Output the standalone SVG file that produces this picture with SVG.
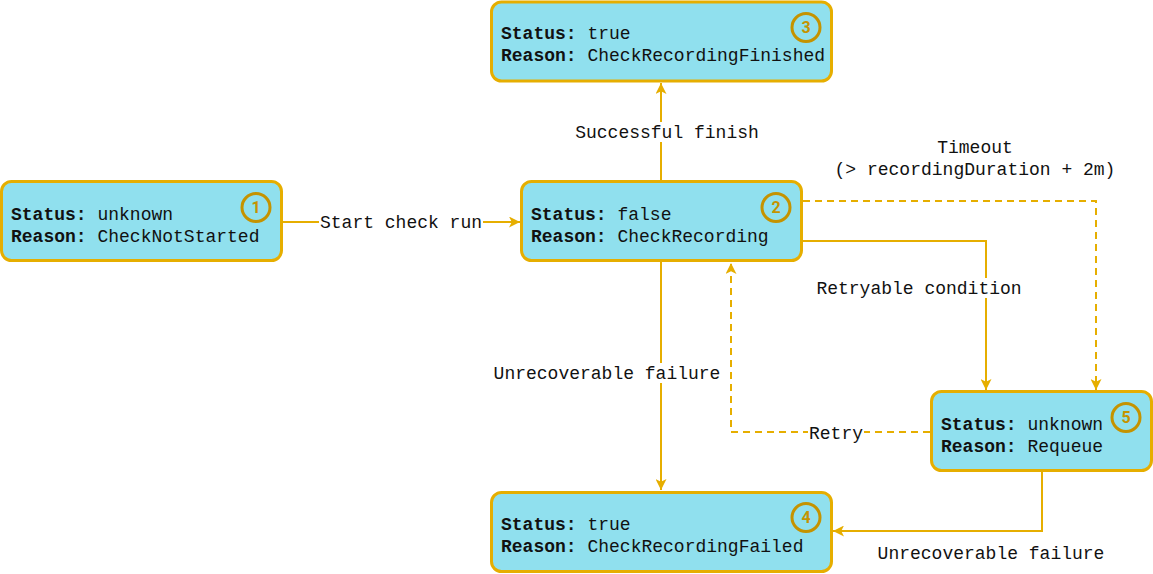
<svg xmlns="http://www.w3.org/2000/svg" width="1153" height="574" viewBox="0 0 1153 574">
<style>
.node{fill:#90E0EE;stroke:#E6AE00;stroke-width:3}
.badge{fill:none;stroke:#C59300;stroke-width:3}
.num{font-family:Roboto,"Noto Sans","Liberation Sans",sans-serif;font-weight:bold;font-size:16px;fill:#C59300;text-anchor:middle}
.txt{font-family:"Liberation Mono","DejaVu Sans Mono",monospace;font-size:18px;fill:#111}
.b{font-weight:bold}
.edge{fill:none;stroke:#E6AE00;stroke-width:2}
.dash{stroke-dasharray:7 5}
.lbl{font-family:"Liberation Mono","DejaVu Sans Mono",monospace;font-size:18px;fill:#111;text-anchor:middle}
.bg{fill:#fff}
</style>
<defs>
<marker id="arr" markerUnits="userSpaceOnUse" markerWidth="11" markerHeight="11" refX="10" refY="5" orient="auto" viewBox="0 0 10 10">
<path d="M0,0 L10,5 L0,10 L2.5,5 Z" fill="#E6AE00"/>
</marker>
</defs>
<rect width="1153" height="574" fill="#fff"/>
<g id="connectors">
<g id="e1-2">
<path class="edge" d="M283,222 H520" marker-end="url(#arr)"/>
<rect class="bg" x="319" y="212" width="164" height="20"/>
<text class="lbl" x="401" y="228">Start check run</text>
</g>
<g id="e2-3">
<path class="edge" d="M661,180 V83" marker-end="url(#arr)"/>
<rect class="bg" x="575" y="122" width="184" height="20"/>
<text class="lbl" x="667" y="138">Successful finish</text>
</g>
<g id="e2-4">
<path class="edge" d="M661,262 V490" marker-end="url(#arr)"/>
<rect class="bg" x="493" y="363" width="228" height="20"/>
<text class="lbl" x="607" y="379">Unrecoverable failure</text>
</g>
<g id="e2-5-retryable">
<path class="edge" d="M803,241 H986 V390" marker-end="url(#arr)"/>
<rect class="bg" x="816" y="278" width="206" height="20"/>
<text class="lbl" x="919" y="294">Retryable condition</text>
</g>
<g id="e2-5-timeout">
<path class="edge dash" d="M803,201 H1096 V390" marker-end="url(#arr)"/>
<text class="lbl" x="975" y="153">Timeout</text>
<text class="lbl" x="975" y="175">(&gt; recordingDuration + 2m)</text>
</g>
<g id="e5-2-retry">
<path class="edge dash" d="M930,432 H731 V263" marker-end="url(#arr)"/>
<rect class="bg" x="808" y="423" width="56" height="20"/>
<text class="lbl" x="836" y="439">Retry</text>
</g>
<g id="e5-4">
<path class="edge" d="M1042,472 V531 H833" marker-end="url(#arr)"/>
<text class="lbl" x="991" y="559">Unrecoverable failure</text>
</g>
</g>
<g id="node1">
<rect class="node" x="1.5" y="181.5" width="280" height="79" rx="10"/>
<circle class="badge" cx="256" cy="207.5" r="14"/>
<text class="num" x="256" y="213">1</text>
<text class="txt" x="11" y="219.5"><tspan class="b">Status:</tspan> unknown</text>
<text class="txt" x="11" y="241.5"><tspan class="b">Reason:</tspan> CheckNotStarted</text>
</g>
<g id="node2">
<rect class="node" x="521.5" y="181.5" width="280" height="79" rx="10"/>
<circle class="badge" cx="776" cy="207.5" r="14"/>
<text class="num" x="776" y="213">2</text>
<text class="txt" x="531" y="219.5"><tspan class="b">Status:</tspan> false</text>
<text class="txt" x="531" y="241.5"><tspan class="b">Reason:</tspan> CheckRecording</text>
</g>
<g id="node3">
<rect class="node" x="491.5" y="2" width="340" height="79" rx="10"/>
<circle class="badge" cx="806" cy="27.5" r="14"/>
<text class="num" x="806" y="33">3</text>
<text class="txt" x="501" y="39"><tspan class="b">Status:</tspan> true</text>
<text class="txt" x="501" y="61"><tspan class="b">Reason:</tspan> CheckRecordingFinished</text>
</g>
<g id="node4">
<rect class="node" x="491.5" y="492.5" width="340" height="79" rx="10"/>
<circle class="badge" cx="806" cy="517.5" r="14"/>
<text class="num" x="806" y="523">4</text>
<text class="txt" x="501" y="529.5"><tspan class="b">Status:</tspan> true</text>
<text class="txt" x="501" y="551.5"><tspan class="b">Reason:</tspan> CheckRecordingFailed</text>
</g>
<g id="node5">
<rect class="node" x="931.5" y="391.5" width="220" height="79" rx="10"/>
<circle class="badge" cx="1126" cy="417.5" r="14"/>
<text class="num" x="1126" y="423">5</text>
<text class="txt" x="941" y="429.5"><tspan class="b">Status:</tspan> unknown</text>
<text class="txt" x="941" y="452"><tspan class="b">Reason:</tspan> Requeue</text>
</g>
</svg>
